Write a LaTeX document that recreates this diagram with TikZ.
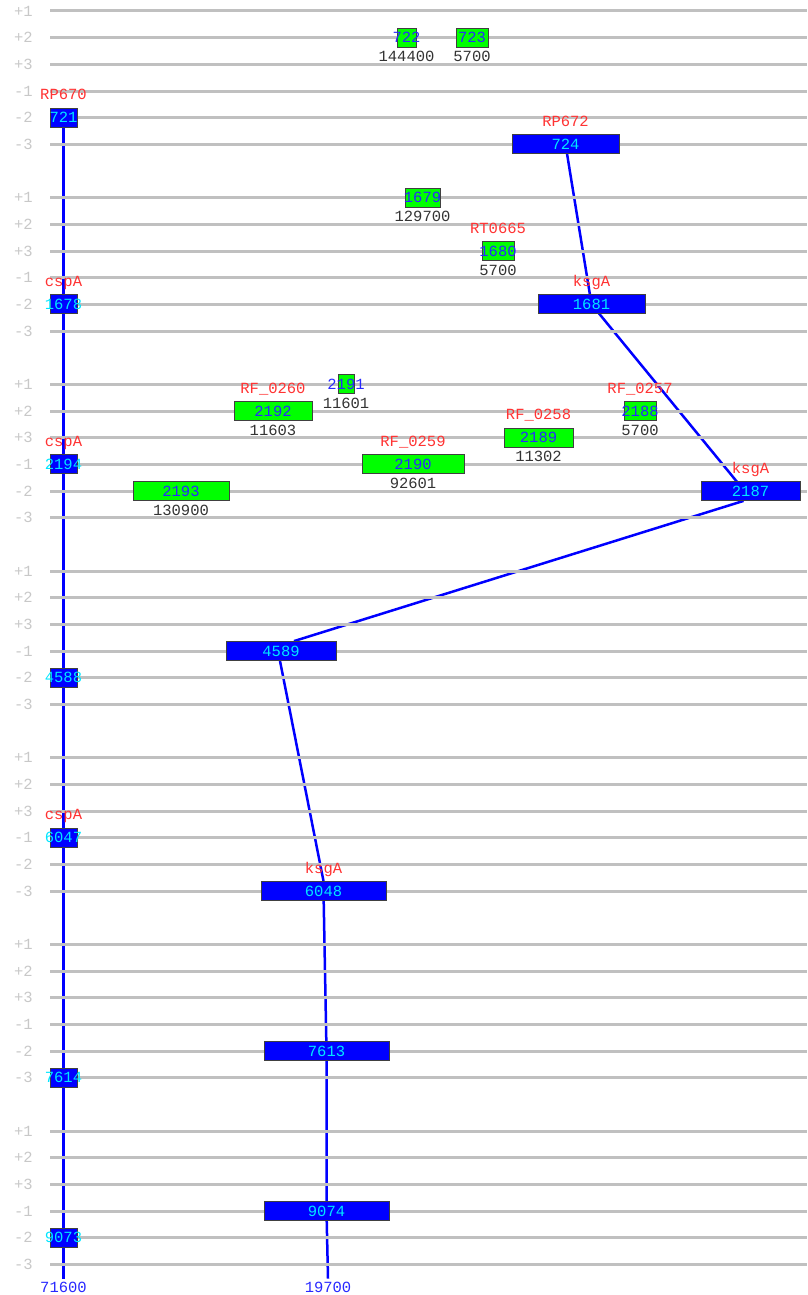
\documentclass[tikz,border=0pt]{standalone}
\usepackage{fontspec}
\setmainfont{Liberation Mono}
\usetikzlibrary{positioning}

\definecolor{trackgray}{RGB}{192,192,192}
\definecolor{lblgray}{RGB}{200,200,200}
\definecolor{namered}{RGB}{255,51,51}
\definecolor{cntgray}{RGB}{51,51,51}
\definecolor{numblue}{RGB}{40,40,255}
\definecolor{boxcyan}{RGB}{0,230,255}

\pgfdeclarelayer{links}
\pgfdeclarelayer{tracks}
\pgfsetlayers{links,tracks,main}

\begin{document}
\begin{tikzpicture}[x=1pt,y=-1pt,
    every node/.style={font=\fontsize{15.5}{18}\selectfont},
    track/.style={trackgray,line width=3pt},
    tracklbl/.style={text=lblgray},
    gene/.style={draw=black!75,line width=0.8pt,inner sep=0pt,minimum height=19pt},
    bgene/.style={gene,fill=blue,label={[text=boxcyan]center:#1}},
    ggene/.style={gene,fill=green,label={[text=numblue]center:#1}},
    genename/.style={text=namered,anchor=base,yshift=18pt},
    genecount/.style={text=cntgray,anchor=base,yshift=-24pt},
    link/.style={blue,line width=2.5pt},
    axlbl/.style={text=numblue,inner sep=3pt}]
    \useasboundingbox (0,0) rectangle (807,1295);

    % Block 1
    \node[bgene=721,minimum width=27pt] (g721) at (63.5,117.7) {};
    \node[genename] (n721) at (g721) {RP670};
    \node[ggene=722,minimum width=19pt] (g722) at (406.5,37.7) {};
    \node[genecount] (c722) at (g722) {144400};
    \node[ggene=723,minimum width=32pt] (g723) at (472,37.7) {};
    \node[genecount] (c723) at (g723) {5700};
    \node[bgene=724,minimum width=107pt] (g724) at (565.5,144.3) {};
    \node[genename] (n724) at (g724) {RP672};

    % Block 2
    \node[bgene=1678,minimum width=27pt] (g1678) at (63.5,304.3) {};
    \node[genename] (n1678) at (g1678) {cspA};
    \node[ggene=1679,minimum width=35pt] (g1679) at (422.5,197.7) {};
    \node[genecount] (c1679) at (g1679) {129700};
    \node[ggene=1680,minimum width=32pt] (g1680) at (498,251) {};
    \node[genename] (n1680) at (g1680) {RT0665};
    \node[genecount] (c1680) at (g1680) {5700};
    \node[bgene=1681,minimum width=107pt] (g1681) at (591.5,304.3) {};
    \node[genename] (n1681) at (g1681) {ksgA};

    % Block 3
    \node[ggene=2191,minimum width=16pt] (g2191) at (346,384.3) {};
    \node[genecount] (c2191) at (g2191) {11601};
    \node[ggene=2192,minimum width=78pt] (g2192) at (273,411) {};
    \node[genename] (n2192) at (g2192) {RF\_0260};
    \node[genecount] (c2192) at (g2192) {11603};
    \node[ggene=2188,minimum width=32pt] (g2188) at (640,411) {};
    \node[genename] (n2188) at (g2188) {RF\_0257};
    \node[genecount] (c2188) at (g2188) {5700};
    \node[ggene=2189,minimum width=69pt] (g2189) at (538.5,437.7) {};
    \node[genename] (n2189) at (g2189) {RF\_0258};
    \node[genecount] (c2189) at (g2189) {11302};
    \node[bgene=2194,minimum width=27pt] (g2194) at (63.5,464.3) {};
    \node[genename] (n2194) at (g2194) {cspA};
    \node[ggene=2190,minimum width=102pt] (g2190) at (413,464.3) {};
    \node[genename] (n2190) at (g2190) {RF\_0259};
    \node[genecount] (c2190) at (g2190) {92601};
    \node[ggene=2193,minimum width=96pt] (g2193) at (181,491) {};
    \node[genecount] (c2193) at (g2193) {130900};
    \node[bgene=2187,minimum width=99pt] (g2187) at (750.5,491) {};
    \node[genename] (n2187) at (g2187) {ksgA};

    % Block 4
    \node[bgene=4589,minimum width=110pt] (g4589) at (281,651) {};
    \node[bgene=4588,minimum width=27pt] (g4588) at (63.5,677.7) {};

    % Block 5
    \node[bgene=6047,minimum width=27pt] (g6047) at (63.5,837.7) {};
    \node[genename] (n6047) at (g6047) {cspA};
    \node[bgene=6048,minimum width=125pt] (g6048) at (323.5,891) {};
    \node[genename] (n6048) at (g6048) {ksgA};

    % Block 6
    \node[bgene=7613,minimum width=125pt] (g7613) at (326.5,1051) {};
    \node[bgene=7614,minimum width=27pt] (g7614) at (63.5,1077.7) {};

    % Block 7
    \node[bgene=9074,minimum width=125pt] (g9074) at (326.5,1211) {};
    \node[bgene=9073,minimum width=27pt] (g9073) at (63.5,1237.7) {};

    % Axis labels
    \node[axlbl] (ax1) at (63.5,1287) {71600};
    \node[axlbl] (ax2) at (328,1287) {19700};

    % Track lines
    \begin{pgfonlayer}{tracks}
    \foreach \g in {0,...,6}
      \foreach \i/\t in {0/+1,1/+2,2/+3,3/-1,4/-2,5/-3}{
        \pgfmathsetmacro{\yy}{11+26.667*(7*\g+\i)}
        \draw[track] (50,\yy) -- (807,\yy);
        \node[tracklbl] (t\g\i) at (23.5,\yy) {\t};
      }
    \end{pgfonlayer}

    % Links
    \begin{pgfonlayer}{links}
    \draw[link] (g721.center) -- (g1678.center) -- (g2194.center) -- (g4588.center)
        -- (g6047.center) -- (g7614.center) -- (g9073.center) -- (ax1.north);
    \draw[link] (g724.center) -- (g1681.center) -- ([xshift=-6pt]g2187.center);
    \draw[link] ([xshift=-7pt]g2187.south) -- ([xshift=13pt]g4589.north);
    \draw[link] ([xshift=-1pt]g4589.south) -- (g6048.north);
    \draw[link] (g6048.center) -- (g7613.center) -- (g9074.center) -- (ax2.north);
    \end{pgfonlayer}
\end{tikzpicture}
\end{document}
